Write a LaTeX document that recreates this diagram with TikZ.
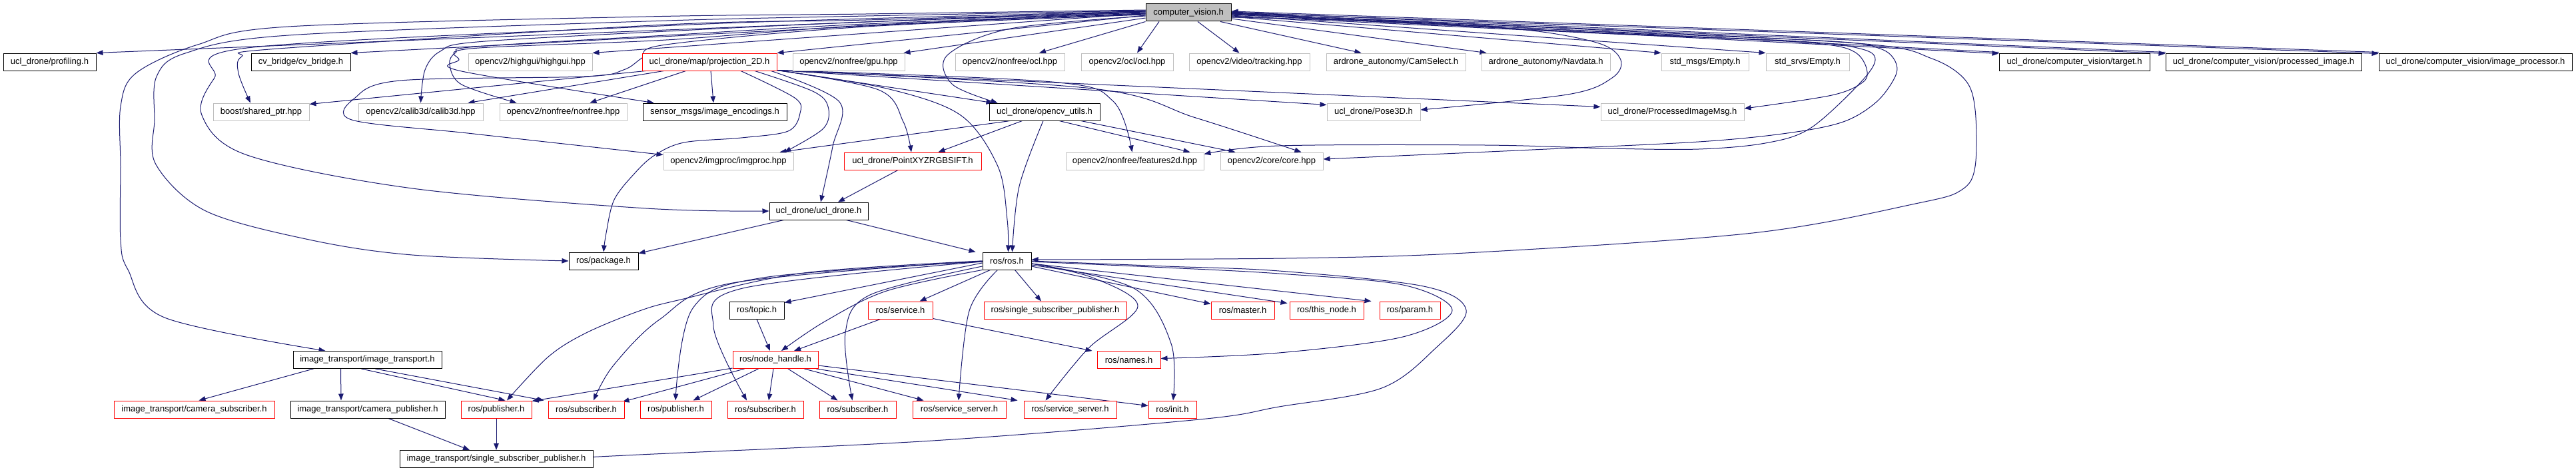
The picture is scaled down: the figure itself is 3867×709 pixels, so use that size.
\documentclass[tikz,border=0pt]{standalone}
\usepackage{fontspec}
\setmainfont{Liberation Sans}
\usetikzlibrary{arrows.meta}
\definecolor{edgec}{HTML}{191970}
\definecolor{grayb}{HTML}{BFBFBF}
\definecolor{redb}{HTML}{FF0000}
\pgfdeclarelayer{back}
\pgfdeclarelayer{bg}
\pgfsetlayers{back,bg,main}
\newcommand\nd[6]{\node[#1, minimum width={#4-#3}] (#2) at ({(#3+#4)/2},#5) {#6};}
\begin{document}
\begin{tikzpicture}[x=1pt,y=-1pt,
  box/.style={rectangle, minimum height=26pt, inner sep=0pt, fill=white, text=black, font=\fontsize{13}{15}\selectfont},
  kbox/.style={box, draw=black, line width=1pt},
  rbox/.style={box, draw=redb, line width=1pt},
  gbox/.style={box, draw=grayb, line width=1pt},
  ed/.style={draw=edgec, line width=1pt, -{Triangle[length=10pt,width=7.5pt]}},
  sm/.style={smooth, tension=0.55}
]
\useasboundingbox (0,0) rectangle (3867,709);
\begin{pgfonlayer}{back}
\fill[white] (0,0) rectangle (3867,709);
\end{pgfonlayer}
% rank 0
\nd{kbox,fill=grayb}{cv}{1720}{1848}{19}{computer\_vision.h}
% rank 1
\nd{kbox}{prof}{5}{144}{93}{ucl\_drone/profiling.h}
\nd{kbox}{cvb}{377}{526}{93}{cv\_bridge/cv\_bridge.h}
\nd{gbox}{hgui}{703}{889}{93}{opencv2/highgui/highgui.hpp}
\nd{rbox}{proj}{964}{1166}{93}{ucl\_drone/map/projection\_2D.h}
\nd{gbox}{gpu}{1190}{1358}{93}{opencv2/nonfree/gpu.hpp}
\nd{gbox}{nocl}{1434}{1598}{93}{opencv2/nonfree/ocl.hpp}
\nd{gbox}{ocl}{1623}{1761}{93}{opencv2/ocl/ocl.hpp}
\nd{gbox}{track}{1785}{1966}{93}{opencv2/video/tracking.hpp}
\nd{gbox}{cams}{1991}{2200}{93}{ardrone\_autonomy/CamSelect.h}
\nd{gbox}{navd}{2224}{2417}{93}{ardrone\_autonomy/Navdata.h}
\nd{gbox}{stdm}{2494}{2625}{93}{std\_msgs/Empty.h}
\nd{gbox}{stds}{2651}{2776}{93}{std\_srvs/Empty.h}
\nd{kbox}{targ}{3001}{3227}{93}{ucl\_drone/computer\_vision/target.h}
\nd{kbox}{pimg}{3251}{3545}{93}{ucl\_drone/computer\_vision/processed\_image.h}
\nd{kbox}{iproc}{3571}{3861}{93}{ucl\_drone/computer\_vision/image\_processor.h}
% rank 2
\nd{gbox}{shp}{320}{464}{168}{boost/shared\_ptr.hpp}
\nd{gbox}{calib}{538}{725}{168}{opencv2/calib3d/calib3d.hpp}
\nd{gbox}{nonf}{750}{941}{168}{opencv2/nonfree/nonfree.hpp}
\nd{kbox}{enc}{965}{1181}{168}{sensor\_msgs/image\_encodings.h}
\nd{kbox}{cvu}{1485}{1651}{168}{ucl\_drone/opencv\_utils.h}
\nd{gbox}{pose}{1992}{2132}{168}{ucl\_drone/Pose3D.h}
\nd{gbox}{pim}{2403}{2618}{168}{ucl\_drone/ProcessedImageMsg.h}
% rank 3
\nd{gbox}{imgp}{996}{1191}{242}{opencv2/imgproc/imgproc.hpp}
\nd{rbox}{sift}{1267}{1473}{242}{ucl\_drone/PointXYZRGBSIFT.h}
\nd{gbox}{f2d}{1600}{1807}{242}{opencv2/nonfree/features2d.hpp}
\nd{gbox}{core}{1832}{1986}{242}{opencv2/core/core.hpp}
% rank 4
\nd{kbox}{ucl}{1155}{1303}{317}{ucl\_drone/ucl\_drone.h}
% rank 5
\nd{kbox}{pkg}{854}{958}{392}{ros/package.h}
\nd{kbox}{ros}{1475}{1548}{392}{ros/ros.h}
% rank 6
\nd{kbox}{topic}{1095}{1177}{466}{ros/topic.h}
\nd{rbox}{srv}{1303}{1400}{466}{ros/service.h}
\nd{rbox}{rssp}{1477}{1691}{466}{ros/single\_subscriber\_publisher.h}
\nd{rbox}{master}{1818}{1913}{466}{ros/master.h}
\nd{rbox}{thisn}{1936}{2047}{466}{ros/this\_node.h}
\nd{rbox}{param}{2071}{2162}{466}{ros/param.h}
% rank 7
\nd{kbox}{it}{440}{663}{540.5}{image\_transport/image\_transport.h}
\nd{rbox}{nh}{1100}{1228}{540.5}{ros/node\_handle.h}
\nd{rbox}{names}{1647}{1742}{540.5}{ros/names.h}
% rank 8
\nd{rbox}{csub}{171}{412}{615}{image\_transport/camera\_subscriber.h}
\nd{kbox}{cpub}{436}{668}{615}{image\_transport/camera\_publisher.h}
\nd{rbox}{pubA}{692}{798}{615}{ros/publisher.h}
\nd{rbox}{subA}{823}{937}{615}{ros/subscriber.h}
\nd{rbox}{pubB}{961}{1068}{615}{ros/publisher.h}
\nd{rbox}{subB}{1092}{1206}{615}{ros/subscriber.h}
\nd{rbox}{subC}{1230}{1345}{615}{ros/subscriber.h}
\nd{rbox}{ssA}{1370}{1510}{615}{ros/service\_server.h}
\nd{rbox}{ssB}{1537}{1676}{615}{ros/service\_server.h}
\nd{rbox}{init}{1724}{1796}{615}{ros/init.h}
% rank 9
\nd{kbox}{itssp}{600}{890}{689.5}{image\_transport/single\_subscriber\_publisher.h}

\begin{pgfonlayer}{bg}
% ---- computer_vision.h, straight edges
\draw[ed] ([yshift=3pt]cv.west) -- (prof.north east);
\draw[ed] ([yshift=2pt]cv.west) -- (cvb.north east);
\draw[ed] ([yshift=-1pt]cv.west) -- (hgui.north east);
\draw[ed] ([yshift=-4pt]cv.west) -- (proj.north east);
\draw[ed] ([yshift=-8pt]cv.west) -- ([xshift=-2pt]gpu.north east);
\draw[ed] (cv.south west) -- ([xshift=44pt]nocl.north);
\draw[ed] ([xshift=-44pt]cv.south) -- ([xshift=15pt]ocl.north);
\draw[ed] ([xshift=14pt]cv.south) -- ([xshift=-15pt]track.north);
\draw[ed] ([xshift=48pt]cv.south) -- ([xshift=-52pt]cams.north);
\draw[ed] ([yshift=-9pt]cv.east) -- ([xshift=8pt]navd.north west);
\draw[ed] ([yshift=-6pt]cv.east) -- (stdm.north west);
\draw[ed] ([yshift=-4pt]cv.east) -- (stds.north west);
\draw[ed] ([yshift=-2pt]cv.east) -- ([yshift=-1pt]targ.north west);
\draw[ed] ([yshift=1pt]targ.north west) -- (cv.east);
\draw[ed] ([yshift=-1pt]cv.east) -- ([yshift=-1pt]pimg.north west);
\draw[ed] ([yshift=1pt]pimg.north west) -- ([yshift=1pt]cv.east);
\draw[ed] (cv.east) -- ([yshift=-1pt]iproc.north west);
\draw[ed] ([yshift=1pt]iproc.north west) -- ([yshift=2pt]cv.east);
% ---- computer_vision.h, curved edges to the left
\draw[ed] plot[sm] coordinates {([yshift=4pt]cv.west) (1300,21) (970,25) (433,40) (297,67) (204,110) (181,160) (181,250) (181,360) (192,405) (247,477) ([xshift=49pt]it.north west)};
\draw[ed] plot[sm] coordinates {([yshift=3pt]cv.west) (1300,24) (970,32) (433,53) (278,80) (235,115) (232,180) (234,247) (309,317) (464,360) (619,383) (pkg.west)};
\draw[ed] plot[sm] coordinates {([yshift=2pt]cv.west) (1300,28) (970,40) (371,72) (322,117) (303,173) (371,233) (619,283) (970,313) (ucl.west)};
\draw[ed] plot[sm] coordinates {([yshift=1pt]cv.west) (1300,30) (1000,37) (418,73) (363,85) (358,110) ([xshift=-16pt]shp.north)};
\draw[ed] plot[sm] coordinates {(cv.west) (1300,33) (1000,47) (716,63) (661,77) (638,105) (calib.north)};
\draw[ed] plot[sm] coordinates {([yshift=-1pt]cv.west) (1300,36) (1000,53) (716,70) (684,79) (675,97) (693,127) ([xshift=-70pt]nonf.north)};
\draw[ed] plot[sm] coordinates {([yshift=-2pt]cv.west) (1300,38) (1000,60) (707,73) (689,90) (693,107) ([xshift=17pt]enc.north west)};
\draw[ed] plot[sm] coordinates {([yshift=-3pt]cv.west) (1300,40) (1000,67) (964,87) (936,105) (877,115) (601,121) (533,147) (528,180) (702,200) (900,222) ([yshift=-4pt]imgp.north west)};
\draw[ed] plot[sm] coordinates {([yshift=-5pt]cv.west) (1517,43) (1422,83) (1430,127) ([xshift=13pt]cvu.north west)};
% ---- computer_vision.h, curved edges to the right
\draw[ed] plot[sm] coordinates {([yshift=-7pt]cv.east) (2100,33) (2291,45) (2400,65) (2433,90) (2420,117) (2353,142) ([yshift=3pt]pose.east)};
\draw[ed] plot[sm] coordinates {([yshift=-5pt]cv.east) (2400,50) (2650,60) (2750,68) (2787,80) (2802,103) (2797,123) (2750,143) ([yshift=5pt]pim.east)};
\draw[ed] plot[sm] coordinates {([yshift=-3pt]cv.east) (2400,49) (2700,62) (2792,73) (2815,90) (2790,127) (2717,193) (2650,215) (2550,224) (2415,223) (2229,218) (1920,219) ([yshift=-3pt]f2d.north east)};
\draw[ed] plot[sm] coordinates {([yshift=-2pt]cv.east) (2400,47) (2750,62) (2822,73) (2845,92) (2845,115) (2817,153) (2767,183) (2683,200) (2550,213) (2300,225) (2100,234) ([yshift=3pt]core.east)};
\draw[ed] plot[sm] coordinates {([yshift=-1pt]cv.east) (2400,45) (2800,66) (2900,88) (2950,120) (2965,165) (2965,250) (2945,285) (2880,305) (2631,350) (2200,380) (1930,388) ([yshift=2pt]ros.east)};
% ---- projection_2D.h
\draw[ed] ([xshift=6pt]proj.south west) -- ([yshift=-2pt]shp.north east);
\draw[ed] ([xshift=33pt]proj.south west) -- ([xshift=-23pt]calib.north east);
\draw[ed] ([xshift=66pt]proj.south west) -- ([xshift=-56pt]nonf.north east);
\draw[ed] ([xshift=2pt]proj.south) -- ([xshift=-2pt]enc.north);
\draw[ed] plot[sm] coordinates {([xshift=68pt]proj.south) (1220,137) (1243,160) (1236,193) ([xshift=-14pt]imgp.north east)};
\draw[ed] plot[sm] coordinates {([xshift=47pt]proj.south) (1193,147) (1201,170) (1183,197) (1113,207) (1027,214) (983,233) (953,260) (922,300) (910,350) ([xshift=0pt]pkg.north)};
\draw[ed] plot[sm] coordinates {([xshift=-9pt]proj.south east) (1260,153) (1250,220) ([xshift=3pt]ucl.north)};
\draw[ed] plot[sm] coordinates {([yshift=1pt]proj.south east) (1331,133) (1442,173) (1498,250) (1512,330) ([xshift=2pt]ros.north)};
\draw[ed] plot[sm] coordinates {([yshift=1pt]proj.south east) (1319,135) (1356,183) ([xshift=-2pt]sift.north)};
\draw[ed] ([yshift=1pt]proj.south east) -- ([xshift=6pt]cvu.north west);
\draw[ed] plot[sm] coordinates {([yshift=1pt]proj.south east) (1579,123) (1671,152) ([xshift=-4pt]f2d.north)};
\draw[ed] plot[sm] coordinates {([yshift=1pt]proj.south east) (1640,133) (1795,177) ([xshift=-33pt]core.north east)};
\draw[ed] ([yshift=1pt]proj.south east) -- ([yshift=-3pt]pose.north west);
\draw[ed] ([yshift=1pt]proj.south east) -- ([yshift=-6pt]pim.north west);
% ---- opencv_utils.h
\draw[ed] ([xshift=32pt]cvu.south west) -- ([xshift=-21pt]imgp.north east);
\draw[ed] ([xshift=50pt]cvu.south west) -- ([xshift=-65pt]sift.north east);
\draw[ed] plot[sm] coordinates {([xshift=-2pt]cvu.south) (1530,280) ([xshift=8pt]ros.north)};
\draw[ed] ([xshift=22pt]cvu.south) -- ([xshift=-21pt]f2d.north east);
\draw[ed] ([xshift=-29pt]cvu.south east) -- ([xshift=23pt]core.north west);
% ---- PointXYZRGBSIFT.h, ucl_drone.h
\draw[ed] ([xshift=-22pt]sift.south) -- ([xshift=29pt]ucl.north);
\draw[ed] ([xshift=22pt]ucl.south west) -- ([yshift=-2pt]pkg.north east);
\draw[ed] ([xshift=-33pt]ucl.south east) -- ([xshift=-10pt]ros.north west);
% ---- ros/ros.h
\draw[ed] ([yshift=-3pt]ros.west) -- ([yshift=-2pt]topic.north east);
\draw[ed] plot[sm] coordinates {(ros.south west) (1331,437) (1238,483) ([xshift=9pt]nh.north)};
\draw[ed] ([xshift=12pt]ros.south west) -- ([xshift=-20pt]srv.north east);
\draw[ed] ([xshift=12pt]ros.south) -- ([xshift=-21pt]rssp.north);
\draw[ed] ([yshift=-8pt]ros.east) -- ([yshift=-4pt]master.north west);
\draw[ed] ([yshift=-6pt]ros.east) -- ([yshift=-3pt,xshift=-3pt]thisn.north west);
\draw[ed] ([yshift=-4pt]ros.east) -- ([xshift=-12pt]param.north west);
\draw[ed] plot[sm] coordinates {([yshift=-1pt]ros.east) (1750,402) (1920,411) (2106,428) (2180,466) (2106,506) (1920,530) ([yshift=2pt]names.east)};
\draw[ed] plot[sm] coordinates {(ros.east) (1750,400) (1920,407) (2137,430) (2201,466) (2155,523) (2074,583) (1920,611) (1801,630) (1400,662) (960,683) ([yshift=3pt]itssp.east)};
\draw[ed] plot[sm] coordinates {([yshift=-4pt]ros.east) (1640,417) (1708,460) (1634,523) ([xshift=-37pt]ssB.north)};
\draw[ed] plot[sm] coordinates {([yshift=-4pt]ros.east) (1702,433) (1758,516) ([xshift=1pt]init.north)};
\draw[ed] plot[sm] coordinates {([xshift=-14pt]ros.south) (1455,467) ([xshift=-1pt]ssA.north)};
\draw[ed] plot[sm] coordinates {([yshift=-8pt]ros.west) (1306,443) (1269,500) ([xshift=-8pt]subC.north)};
\draw[ed] plot[sm] coordinates {([yshift=-1pt]ros.west) (1115,433) (1071,490) ([xshift=-28pt]subB.north)};
\draw[ed] plot[sm] coordinates {([yshift=-1pt]ros.west) (1146,417) (1040,463) ([xshift=-0.5pt]pubB.north)};
\draw[ed] plot[sm] coordinates {(ros.west) (1207,410) (1022,450) (960,467) (880,500) (823,536) ([xshift=16pt]pubA.north)};
\draw[ed] plot[sm] coordinates {(ros.west) (1100,425) (990,480) (920,550) ([xshift=11pt]subA.north)};
% ---- ros/node_handle.h
\draw[ed] ([yshift=1pt]nh.south west) -- ([yshift=-1pt]pubA.north east);
\draw[ed] ([xshift=18pt]nh.south west) -- ([xshift=-3pt,yshift=-2pt]subA.north east);
\draw[ed] ([xshift=39pt]nh.south west) -- ([xshift=-28pt]pubB.north east);
\draw[ed] ([xshift=-3pt]nh.south) -- ([xshift=5pt]subB.north);
\draw[ed] ([xshift=19pt]nh.south) -- ([xshift=28pt]subC.north west);
\draw[ed] ([xshift=-21pt]nh.south east) -- ([xshift=17pt]ssA.north west);
\draw[ed] ([xshift=-3pt]nh.south east) -- ([xshift=-9pt]ssB.north west);
\draw[ed] ([yshift=5pt]nh.south east) -- ([yshift=-8pt]init.north west);
% ---- topic.h, service.h
\draw[ed] (topic.south) -- ([xshift=-8pt]nh.north);
\draw[ed] ([xshift=19pt]srv.south west) -- ([xshift=28pt]nh.north);
\draw[ed] ([yshift=1pt]srv.south east) -- ([xshift=-7pt]names.north west);
% ---- image_transport
\draw[ed] ([xshift=31pt]it.south west) -- ([xshift=7pt]csub.north);
\draw[ed] ([xshift=-40pt]it.south) -- ([xshift=-40pt]cpub.north);
\draw[ed] ([xshift=-9pt]it.south) -- ([xshift=-40pt]pubA.north east);
\draw[ed] ([xshift=-100pt]it.south east) -- ([xshift=-6pt]subA.north west);
\draw[ed] ([xshift=31pt]cpub.south) -- ([xshift=-40pt]itssp.north);
\draw[ed] (pubA.south) -- ([xshift=0pt]itssp.north);
\end{pgfonlayer}
\end{tikzpicture}
\end{document}
